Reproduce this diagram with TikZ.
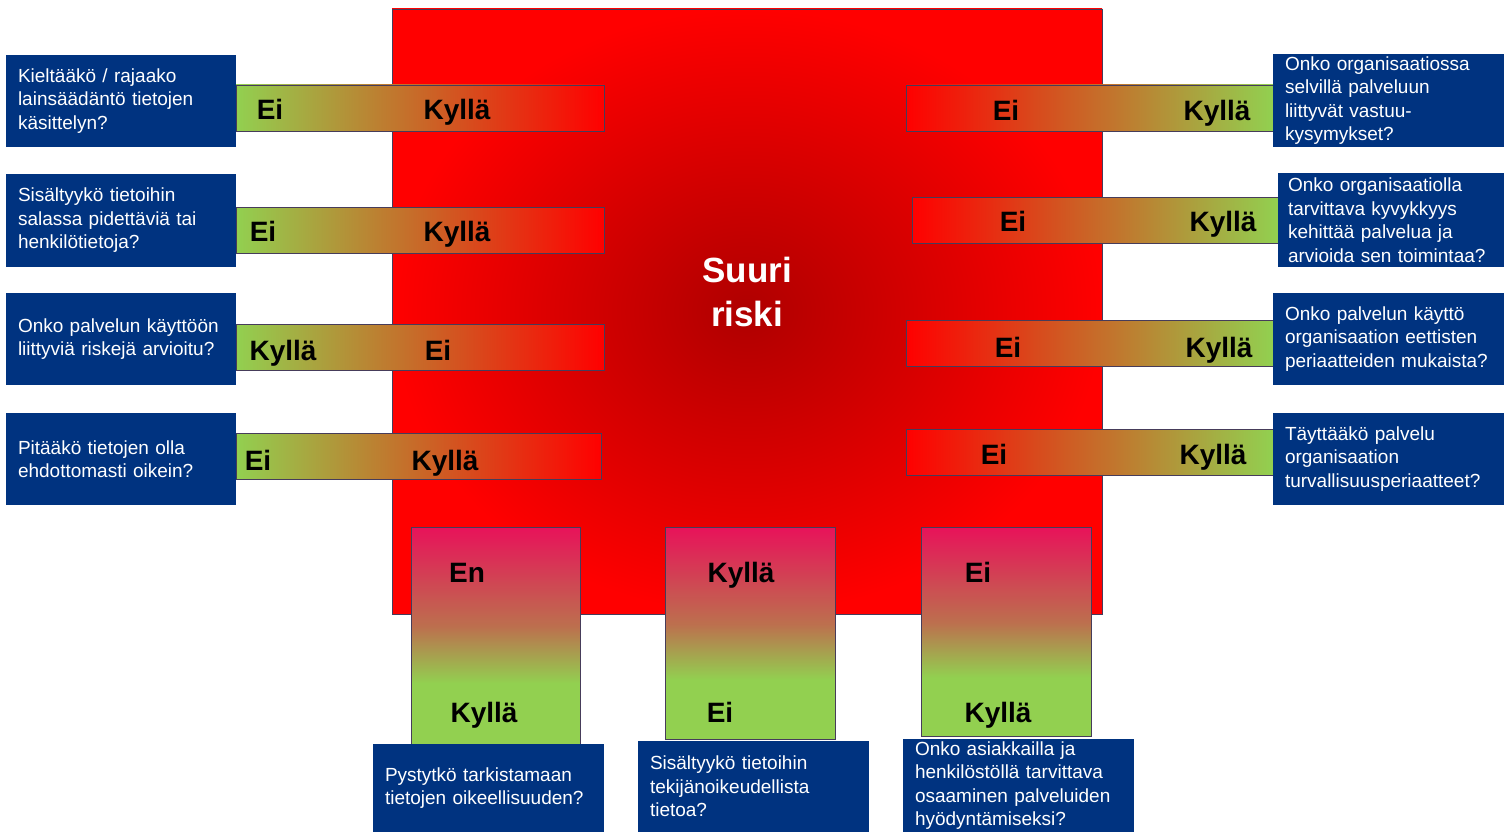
\documentclass[tikz,border=0pt]{standalone}
\usepackage{fontspec}
\setmainfont{Liberation Sans}

\definecolor{boxblue}{RGB}{0,51,128}
\definecolor{okgreen}{RGB}{146,208,80}
\definecolor{riskred}{RGB}{255,0,0}
\definecolor{darkrisk}{RGB}{175,0,0}
\definecolor{barpink}{RGB}{232,18,90}
\definecolor{barbrown}{RGB}{188,112,78}
\definecolor{barline}{RGB}{70,60,90}

\pgfdeclareverticalshading{votebar}{100bp}{color(0bp)=(okgreen); color(25bp)=(okgreen);
  color(39bp)=(okgreen); color(52bp)=(barbrown); color(75bp)=(barpink); color(100bp)=(barpink)}

\tikzset{
  question/.style={fill=boxblue, text=white, align=left, inner xsep=12pt, inner ysep=0pt,
    minimum width=230pt, text width=206pt, minimum height=92pt,
    font=\fontsize{19}{23.5}\selectfont},
  hbar/.style={draw=barline, minimum width=368pt, minimum height=46pt},
  vbar/.style={draw=barline, shade, shading=votebar, minimum width=170pt},
  answer/.style={anchor=base, inner sep=0pt, font=\bfseries\fontsize{28}{30}\selectfont},
}

\begin{document}
\begin{tikzpicture}[x=1pt, y=-1pt]
  \useasboundingbox (0,0) rectangle (1505,832);

  % The big square (high risk)
  \node[draw=barline, inner color=darkrisk, outer color=riskred,
    minimum width=710pt, minimum height=605pt] (risk) at (747,311.5) {};
  \node[text=white, align=center, inner sep=0pt,
    font=\bfseries\fontsize{35}{44}\selectfont] (risklabel) at (747,291.5) {Suuri\\riski};

  % Left bars and questions
  \node[hbar, left color=okgreen, right color=riskred] (lbar1) at (420,108) {};
  \node[hbar, left color=okgreen, right color=riskred] (lbar2) at (420,230) {};
  \node[hbar, left color=okgreen, right color=riskred] (lbar3) at (420,347) {};
  \node[hbar, left color=okgreen, right color=riskred, minimum width=365pt] (lbar4) at (418.5,456.5) {};

  \node[question] (lq1) at (121,101) {Kieltääkö / rajaako\\lainsäädäntö tietojen\\käsittelyn?};
  \node[question] (lq2) at (121,220.5) {Sisältyykö tietoihin\\salassa pidettäviä tai\\henkilötietoja?};
  \node[question] (lq3) at (121,339) {Onko palvelun käyttöön\\liittyviä riskejä arvioitu?};
  \node[question] (lq4) at (121,459) {Pitääkö tietojen olla\\ehdottomasti oikein?};

  \node[answer] (lbar1no) at (270,120) {Ei};
  \node[answer] (lbar1yes) at (457,120) {Kyllä};
  \node[answer] (lbar2no) at (263,241) {Ei};
  \node[answer] (lbar2yes) at (457,241) {Kyllä};
  \node[answer] (lbar3yes) at (283,360) {Kyllä};
  \node[answer] (lbar3no) at (438,360) {Ei};
  \node[answer] (lbar4no) at (258,470) {Ei};
  \node[answer] (lbar4yes) at (445,470) {Kyllä};

  % Right bars and questions
  \node[hbar, left color=riskred, right color=okgreen, minimum width=367pt] (rbar1) at (1089.5,108) {};
  \node[hbar, left color=riskred, right color=okgreen, minimum width=366pt] (rbar2) at (1095,220) {};
  \node[hbar, left color=riskred, right color=okgreen, minimum width=367pt] (rbar3) at (1089.5,343) {};
  \node[hbar, left color=riskred, right color=okgreen, minimum width=367pt] (rbar4) at (1089.5,452) {};

  \node[question, minimum width=231pt, text width=207pt, minimum height=93pt] (rq1) at (1388.5,100.5)
    {Onko organisaatiossa\\selvillä palveluun\\liittyvät vastuu-\\kysymykset?};
  \node[question, minimum width=226pt, inner xsep=10pt, minimum height=94pt] (rq2) at (1391,220)
    {Onko organisaatiolla\\tarvittava kyvykkyys\\kehittää palvelua ja\\arvioida sen toimintaa?};
  \node[question, minimum width=231pt, text width=207pt] (rq3) at (1388.5,339)
    {Onko palvelun käyttö\\organisaation eettisten\\periaatteiden mukaista?};
  \node[question, minimum width=231pt, text width=207pt] (rq4) at (1388.5,459)
    {Täyttääkö palvelu\\organisaation\\turvallisuusperiaatteet?};

  \node[answer] (rbar1no) at (1006,121) {Ei};
  \node[answer] (rbar1yes) at (1217,121) {Kyllä};
  \node[answer] (rbar2no) at (1013,231.5) {Ei};
  \node[answer] (rbar2yes) at (1223,231.5) {Kyllä};
  \node[answer] (rbar3no) at (1008,357) {Ei};
  \node[answer] (rbar3yes) at (1219,357) {Kyllä};
  \node[answer] (rbar4no) at (994,464) {Ei};
  \node[answer] (rbar4yes) at (1213,464) {Kyllä};

  % Bottom bars and questions
  \node[vbar, minimum width=169pt, minimum height=217pt] (bbar1) at (495.5,635.5) {};
  \node[vbar, minimum height=212pt] (bbar2) at (750,633) {};
  \node[vbar, minimum height=209pt] (bbar3) at (1006,631.5) {};

  \node[question, minimum width=231pt, text width=207pt, minimum height=88pt] (bq1) at (488.5,788)
    {Pystytkö tarkistamaan\\tietojen oikeellisuuden?};
  \node[question, minimum width=231pt, text width=207pt, minimum height=91pt] (bq2) at (753.5,786.5)
    {Sisältyykö tietoihin\\tekijänoikeudellista\\tietoa?};
  \node[question, minimum width=231pt, text width=207pt, minimum height=93pt] (bq3) at (1018.5,785.5)
    {Onko asiakkailla ja\\henkilöstöllä tarvittava\\osaaminen palveluiden\\hyödyntämiseksi?};

  \node[answer] (bbar1no) at (467,582) {En};
  \node[answer] (bbar1yes) at (484,722) {Kyllä};
  \node[answer] (bbar2yes) at (741,582) {Kyllä};
  \node[answer] (bbar2no) at (720,722) {Ei};
  \node[answer] (bbar3no) at (978,582) {Ei};
  \node[answer] (bbar3yes) at (998,722) {Kyllä};

\end{tikzpicture}
\end{document}
